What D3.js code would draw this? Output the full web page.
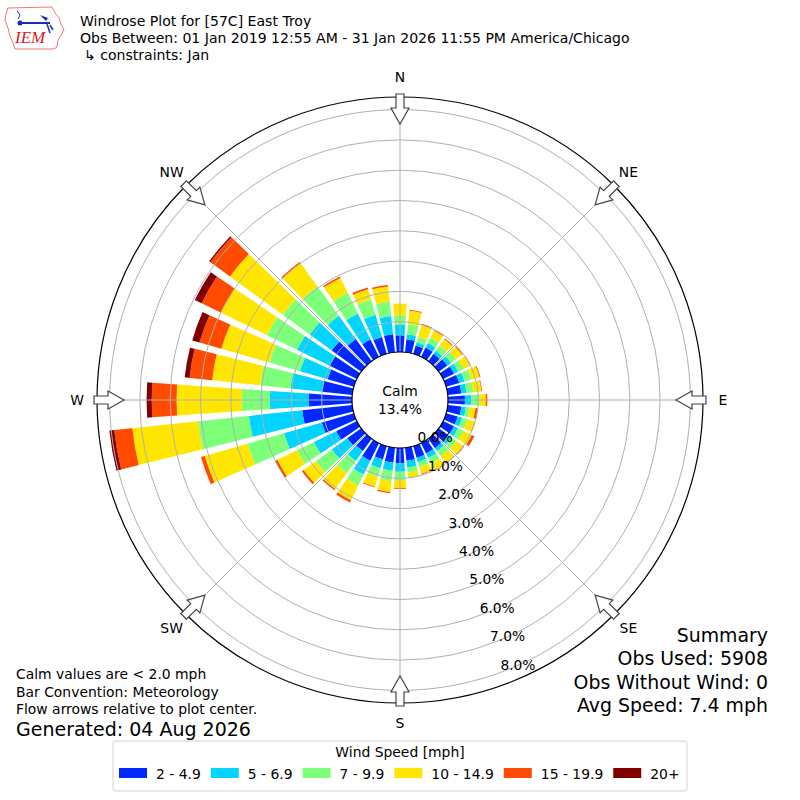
<!DOCTYPE html>
<html>
<head>
<meta charset="utf-8">
<script src="https://cdn.jsdelivr.net/npm/d3@7"></script>
<style>
  body { margin: 0; background: #fff; }
  svg { display: block; font-family: "DejaVu Sans", sans-serif; }
</style>
</head>
<body>
<div id="chart"></div>
<script>
// wind directions (deg, meteorological) and speed bins
var directions = d3.range(0, 360, 10);
var speedBins = ["2 - 4.9", "5 - 6.9", "7 - 9.9", "10 - 14.9", "15 - 19.9", "20+"];
var binColors = ["#0028ff", "#00d4ff", "#7dff7a", "#ffe600", "#ff4a00", "#800000"];

// percent of obs per direction, one array per speed bin (0, 10, ... 350 deg)
var bin2to5 = [0.55, 0.43, 0.29, 0.34, 0.30, 0.35, 0.40, 0.45, 0.45, 0.56, 0.45, 0.40,
               0.40, 0.38, 0.38, 0.38, 0.40, 0.43, 0.50, 0.49, 0.46, 0.65, 0.50, 0.57,
               0.76, 1.10, 1.66, 1.44, 1.00, 0.90, 1.00, 1.20, 0.90, 0.64, 0.58, 0.60];
var bin5to7 = [0.35, 0.17, 0.11, 0.17, 0.13, 0.15, 0.15, 0.18, 0.17, 0.22, 0.15, 0.15,
               0.15, 0.14, 0.12, 0.17, 0.15, 0.22, 0.28, 0.27, 0.30, 0.50, 0.40, 0.63,
               0.82, 1.30, 1.77, 1.27, 1.05, 0.95, 1.20, 0.90, 0.95, 0.95, 0.76, 0.60];
var bin7to10 = [0.30, 0.33, 0.18, 0.19, 0.20, 0.20, 0.20, 0.24, 0.23, 0.25, 0.12, 0.17,
                0.20, 0.20, 0.20, 0.20, 0.17, 0.17, 0.28, 0.34, 0.29, 0.40, 0.50, 0.65,
                0.62, 1.25, 1.69, 0.93, 1.00, 1.05, 1.10, 1.10, 1.20, 0.76, 0.53, 0.48];
var bin10to15 = [0.40, 0.45, 0.42, 0.26, 0.27, 0.25, 0.25, 0.28, 0.27, 0.22, 0.20, 0.26,
                 0.30, 0.28, 0.28, 0.25, 0.23, 0.17, 0.27, 0.37, 0.35, 0.55, 0.65, 0.50,
                 0.72, 1.47, 2.18, 2.15, 1.60, 1.65, 1.70, 2.15, 0.95, 0.55, 0.35, 0.50];
var bin15to20 = [0.00, 0.03, 0.03, 0.03, 0.03, 0.03, 0.02, 0.03, 0.02, 0.05, 0.08, 0.02,
                 0.10, 0.03, 0.02, 0.02, 0.02, 0.01, 0.02, 0.04, 0.02, 0.08, 0.05, 0.07,
                 0.08, 0.13, 0.60, 0.82, 0.75, 0.75, 0.70, 0.80, 0.05, 0.05, 0.06, 0.05];
var bin20plus = [0, 0, 0, 0, 0, 0, 0, 0, 0, 0, 0, 0,
                 0, 0, 0, 0, 0, 0, 0, 0, 0, 0, 0, 0,
                 0, 0, 0.16, 0.17, 0.16, 0.25, 0.25, 0.05, 0, 0, 0, 0];

var rTicks = [0, 1, 2, 3, 4, 5, 6, 7, 8];
var compassLabels = ["N", "NE", "E", "SE", "S", "SW", "W", "NW"];
var calmPct = 13.4;
var summaryLines = ["Summary", "Obs Used: 5908", "Obs Without Wind: 0", "Avg Speed: 7.4 mph"];
var noteLines = ["Calm values are < 2.0 mph", "Bar Convention: Meteorology", "Flow arrows relative to plot center."];
var titleLines = ["Windrose Plot for [57C] East Troy",
                  "Obs Between: 01 Jan 2019 12:55 AM - 31 Jan 2026 11:55 PM America/Chicago",
                  "\u21b3 constraints: Jan"];

var width = 800, height = 800;
var cx = 400, cy = 400;
var calmR = 48, outerR = 303;

var svg = d3.select("#chart").append("svg")
    .attr("width", width)
    .attr("height", height);

// radius scale, 0% starts on the calm circle
var r = d3.scaleLinear().domain([0, 8]).range([calmR, calmR + 8 * 30.3]);
var toRad = d3.scaleLinear().domain([0, 360]).range([0, 2 * Math.PI]);

var keys = ["b0", "b1", "b2", "b3", "b4", "b5"];
var binArrays = [bin2to5, bin5to7, bin7to10, bin10to15, bin15to20, bin20plus];
var rows = directions.map(function (d, i) {
    var o = { dir: d };
    keys.forEach(function (k, j) { o[k] = binArrays[j][i]; });
    return o;
});
var stacked = d3.stack().keys(keys)(rows);

var plot = svg.append("g").attr("transform", "translate(" + cx + "," + cy + ")");

var arc = d3.arc();
var halfWidth = 4; // bar is 8 deg wide

stacked.forEach(function (layer, j) {
    plot.append("g")
        .selectAll("path")
        .data(layer.filter(function (d) { return d[1] - d[0] > 0; }))
        .enter().append("path")
        .attr("fill", binColors[j])
        .attr("d", function (d) {
            return arc({
                innerRadius: r(d[0]),
                outerRadius: r(d[1]),
                startAngle: toRad(d.data.dir - halfWidth),
                endAngle: toRad(d.data.dir + halfWidth)
            });
        });
});

// grid on top of bars
var grid = plot.append("g").attr("fill", "none").attr("stroke", "#b0b0b0").attr("stroke-width", 1);
grid.selectAll("circle")
    .data(rTicks.slice(1))
    .enter().append("circle")
    .attr("r", function (d) { return r(d); });
grid.selectAll("line")
    .data(d3.range(0, 360, 45))
    .enter().append("line")
    .attr("x1", function (d) { return calmR * Math.sin(toRad(d)); })
    .attr("y1", function (d) { return -calmR * Math.cos(toRad(d)); })
    .attr("x2", function (d) { return outerR * Math.sin(toRad(d)); })
    .attr("y2", function (d) { return -outerR * Math.cos(toRad(d)); });

// outer frame
plot.append("circle").attr("r", outerR).attr("fill", "none").attr("stroke", "#000").attr("stroke-width", 1.2);

// calm circle
plot.append("circle").attr("r", calmR).attr("fill", "#fff").attr("stroke", "#000").attr("stroke-width", 1.2);
plot.append("text").attr("text-anchor", "middle").attr("y", -4)
    .style("font-size", "13.9px").text("Calm");
plot.append("text").attr("text-anchor", "middle").attr("y", 14)
    .style("font-size", "13.9px").text(calmPct.toFixed(1) + "%");

// radial tick labels
var labAng = toRad(160);
plot.append("g").selectAll("text")
    .data(rTicks)
    .enter().append("text")
    .attr("text-anchor", "middle")
    .attr("x", function (d) { return r(d) * Math.sin(labAng) + 18.6; })
    .attr("y", function (d) { return -r(d) * Math.cos(labAng) - 3; })
    .style("font-size", "13.8px")
    .text(function (d) { return d.toFixed(1) + "%"; });

// flow arrows pointing at the center
var tail = outerR + 3, neck = outerR - 11, tip = outerR - 27;
var arrowPts = [[-4, -tail], [4, -tail], [4, -neck], [9, -neck], [0, -tip], [-9, -neck], [-4, -neck]];
plot.append("g").selectAll("path")
    .data(d3.range(0, 360, 45))
    .enter().append("path")
    .attr("d", "M" + arrowPts.map(function (p) { return p.join(","); }).join("L") + "Z")
    .attr("transform", function (d) { return "rotate(" + d + ")"; })
    .attr("fill", "#fff")
    .attr("stroke", "#444")
    .attr("stroke-width", 1.2);

// compass labels
plot.append("g").selectAll("text")
    .data(compassLabels)
    .enter().append("text")
    .attr("text-anchor", "middle")
    .attr("dominant-baseline", "central")
    .attr("x", function (d, i) { return 323 * Math.sin(toRad(i * 45)); })
    .attr("y", function (d, i) { return -323 * Math.cos(toRad(i * 45)); })
    .style("font-size", "13.9px")
    .text(function (d) { return d; });

// titles
svg.append("g").selectAll("text")
    .data(titleLines)
    .enter().append("text")
    .attr("x", function (d, i) { return i == 2 ? 84 : 80; })
    .attr("y", function (d, i) { return 26 + i * 17; })
    .style("font-size", "14.05px")
    .text(function (d) { return d; });

// IEM logo
var logo = svg.append("g");
logo.append("path")
    .attr("d", "M8,8 L52,7 L55,13 L59,18 L61,24 L64,30 L61,35 L58,40 L57,47 L54,49 L15,49 L13,43 L10,36 L8,28 L5,20 L6,14 Z")
    .attr("fill", "#fff").attr("stroke", "#e77").attr("stroke-width", 1);
logo.append("line").attr("x1", 19).attr("y1", 23).attr("x2", 50).attr("y2", 23)
    .attr("stroke", "#1a2fb0").attr("stroke-width", 2);
logo.append("circle").attr("cx", 20).attr("cy", 23).attr("r", 2.5).attr("fill", "#1a2fb0");
logo.append("path").attr("d", "M40,15 L48,18 L46,21 Z").attr("fill", "#1a2fb0");
logo.append("path").attr("d", "M47,24 L50,33 M50,25 L53,30").attr("stroke", "#1a2fb0").attr("stroke-width", 1.5);
logo.append("path").attr("d", "M17,11 L20,15 L18,19").attr("fill", "none").attr("stroke", "#1a2fb0").attr("stroke-width", 1);
logo.append("text").attr("x", 15).attr("y", 43)
    .style("font-family", "'Liberation Serif', serif").style("font-style", "italic")
    .style("font-size", "17px").attr("fill", "#d42020").text("IEM");

// notes bottom left
svg.append("g").selectAll("text")
    .data(noteLines)
    .enter().append("text")
    .attr("x", 16)
    .attr("y", function (d, i) { return 679 + i * 17.5; })
    .style("font-size", "13.9px")
    .text(function (d) { return d; });
svg.append("text").attr("x", 16).attr("y", 736)
    .style("font-size", "19px").text("Generated: 04 Aug 2026");

// summary bottom right
svg.append("g").selectAll("text")
    .data(summaryLines)
    .enter().append("text")
    .attr("x", 768)
    .attr("text-anchor", "end")
    .attr("y", function (d, i) { return 642 + i * 23.3; })
    .style("font-size", "18.9px")
    .text(function (d) { return d; });

// legend
var legend = svg.append("g");
legend.append("rect")
    .attr("x", 113).attr("y", 741).attr("width", 574).attr("height", 50)
    .attr("rx", 3)
    .attr("fill", "#fff").attr("stroke", "#d0d0d0");
legend.append("text").attr("x", 400).attr("y", 757).attr("text-anchor", "middle")
    .style("font-size", "13.9px").text("Wind Speed [mph]");
var lx = 119;
speedBins.forEach(function (lab, i) {
    legend.append("rect").attr("x", lx).attr("y", 768).attr("width", 28).attr("height", 10)
        .attr("fill", binColors[i]);
    var t = legend.append("text").attr("x", lx + 37).attr("y", 779)
        .style("font-size", "13.9px").text(lab);
    lx = lx + 37 + t.node().getComputedTextLength() + 10;
});
</script>
</body>
</html>
